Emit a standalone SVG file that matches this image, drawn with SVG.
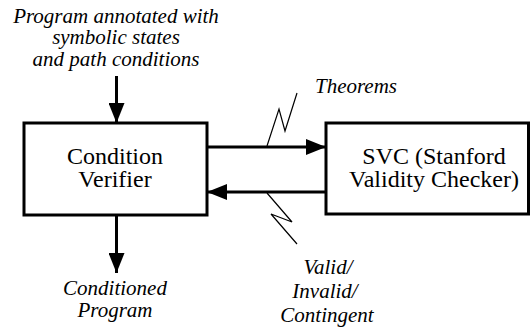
<svg xmlns="http://www.w3.org/2000/svg" width="530" height="331" viewBox="0 0 530 331">
<defs>
<marker id="ah" viewBox="0 0 20 16" refX="20" refY="8" markerWidth="20" markerHeight="16" markerUnits="userSpaceOnUse" orient="auto">
<path d="M0,0 L20,8 L0,16 Z" fill="#000"/>
</marker>
</defs>
<g id="connectors" stroke="#000" fill="none">
<g stroke-width="3" marker-end="url(#ah)">
<line x1="116.5" y1="76" x2="116.5" y2="123"/>
<line x1="116.5" y1="215" x2="116.5" y2="273"/>
<line x1="207" y1="147" x2="326" y2="147"/>
<line x1="326" y1="192" x2="207" y2="192"/>
</g>
<g stroke-width="1.2">
<polyline points="267,146 279,109 285,131 297,93"/>
<polyline points="267,193 292,222 271,214 297,244"/>
</g>
</g>
<g id="input-label" text-anchor="middle">
<text x="116" y="23" style="font-family:'Liberation Serif','Times New Roman',serif;font-style:italic;font-size:21px">Program annotated with</text>
<text x="116" y="44" style="font-family:'Liberation Serif','Times New Roman',serif;font-style:italic;font-size:21px">symbolic states</text>
<text x="116" y="66" style="font-family:'Liberation Serif','Times New Roman',serif;font-style:italic;font-size:21px">and path conditions</text>
</g>
<g id="condition-verifier" text-anchor="middle">
<rect x="24" y="123" width="183" height="92" fill="#fff" stroke="#000" stroke-width="3"/>
<text x="115" y="164" style="font-family:'Liberation Serif','Times New Roman',serif;font-size:24px">Condition</text>
<text x="115" y="187" style="font-family:'Liberation Serif','Times New Roman',serif;font-size:24px">Verifier</text>
</g>
<g id="svc" text-anchor="middle">
<rect x="326" y="123" width="202.5" height="91" fill="#fff" stroke="#000" stroke-width="3"/>
<text x="434" y="164" style="font-family:'Liberation Serif','Times New Roman',serif;font-size:24px">SVC (Stanford</text>
<text x="434" y="187" style="font-family:'Liberation Serif','Times New Roman',serif;font-size:24px">Validity Checker)</text>
</g>
<g id="theorems-label" text-anchor="middle">
<text x="356" y="93" style="font-family:'Liberation Serif','Times New Roman',serif;font-style:italic;font-size:21px">Theorems</text>
</g>
<g id="result-label" text-anchor="middle">
<text x="328" y="274" style="font-family:'Liberation Serif','Times New Roman',serif;font-style:italic;font-size:21px">Valid/</text>
<text x="325" y="298" style="font-family:'Liberation Serif','Times New Roman',serif;font-style:italic;font-size:21px">Invalid/</text>
<text x="327" y="322" style="font-family:'Liberation Serif','Times New Roman',serif;font-style:italic;font-size:21px">Contingent</text>
</g>
<g id="output-label" text-anchor="middle">
<text x="115" y="295" style="font-family:'Liberation Serif','Times New Roman',serif;font-style:italic;font-size:21px">Conditioned</text>
<text x="115" y="317" style="font-family:'Liberation Serif','Times New Roman',serif;font-style:italic;font-size:21px">Program</text>
</g>
</svg>
